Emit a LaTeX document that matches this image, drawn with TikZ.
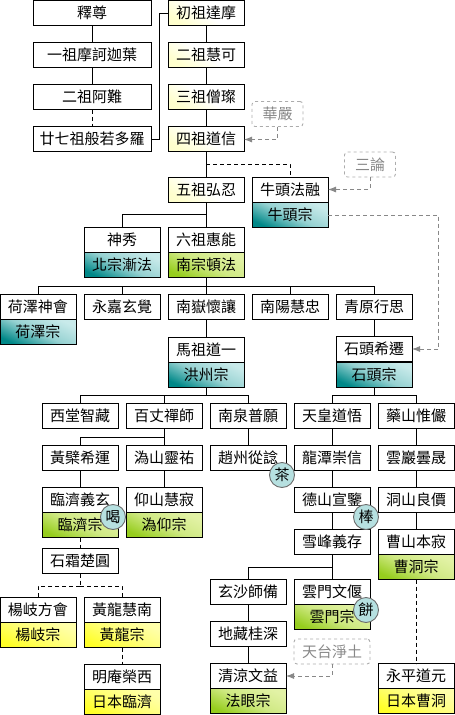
\documentclass[tikz,border=0pt]{standalone}
\usepackage{fontspec}
\setmainfont{Noto Sans CJK TC}
\usetikzlibrary{arrows.meta}
\definecolor{darkteal}{RGB}{0,136,136}
\definecolor{lightteal}{RGB}{200,234,234}
\definecolor{darkleaf}{RGB}{150,205,30}
\definecolor{lightleaf}{RGB}{226,242,165}
\definecolor{darkyellow}{RGB}{255,255,40}
\definecolor{lightyellow}{RGB}{255,255,170}
\definecolor{paleyellow}{RGB}{255,255,205}
\definecolor{stickteal}{RGB}{182,224,224}
\definecolor{guidegray}{RGB}{136,136,136}
\tikzset{
  namebox/.style={draw,fill=white,minimum width=76pt,minimum height=25pt,inner sep=0pt,outer sep=0pt,line width=0.9pt,font=\fontsize{15}{15}\selectfont},
  widebox/.style={namebox,minimum width=118pt},
  patriarch/.style={namebox,top color=white,bottom color=paleyellow,middle color=white,shading angle=-35},
  tealschool/.style={namebox,top color=lightteal,bottom color=darkteal,middle color=lightteal!75!darkteal,shading angle=-25},
  leafschool/.style={namebox,top color=lightleaf,bottom color=darkleaf,middle color=lightleaf!75!darkleaf,shading angle=-25},
  yellowschool/.style={namebox,top color=lightyellow,bottom color=darkyellow,middle color=lightyellow!60!darkyellow,shading angle=-25},
  otherbox/.style={draw=guidegray!70,dashed,rounded corners=3pt,text=guidegray,minimum width=51pt,minimum height=25pt,inner sep=0pt,line width=0.9pt,font=\fontsize{15}{15}\selectfont},
  stickmark/.style={circle,draw=guidegray!80!black,fill=stickteal,minimum size=25pt,inner sep=0pt,line width=0.9pt,font=\fontsize{15}{15}\selectfont},
  link/.style={line width=0.9pt},
  dashlink/.style={line width=0.9pt,dash pattern=on 4pt off 3pt},
  guidelink/.style={line width=0.9pt,guidegray,dash pattern=on 4pt off 3pt,-{Latex[length=8pt,width=6pt]}}
}
\begin{document}
\begin{tikzpicture}[x=1pt,y=-1pt]
  \useasboundingbox(0,0) rectangle(455,715);
  % india
  \node[widebox] (shizun) at(92,13){釋尊};
  \node[widebox] (jiaye) at(92,55){一祖摩訶迦葉};
  \node[widebox] (anan) at(92,97){二祖阿難};
  \node[widebox] (ruoduo) at(92,139){廿七祖般若多羅};
  % china
  \node[patriarch] (damo) at(206,13){初祖達摩};
  \node[patriarch] (huike) at(206,55){二祖慧可};
  \node[patriarch] (sengcan) at(206,97){三祖僧璨};
  \node[patriarch] (daoxin) at(206,139){四祖道信};
  \node[patriarch] (hongren) at(206,190){五祖弘忍};
  \node[namebox] (farong) at(290,190){牛頭法融};
  \node[tealschool] (niutou) at(290,215){牛頭宗};
  \node[namebox] (shenxiu) at(122,240){神秀};
  \node[tealschool] (beizong) at(122,265){北宗漸法};
  \node[namebox] (huineng) at(206,240){六祖惠能};
  \node[leafschool] (nanzong) at(206,265){南宗頓法};
  % disciples of the sixth
  \node[namebox] (shenhui) at(38,307){荷澤神會};
  \node[tealschool] (heze) at(38,332){荷澤宗};
  \node[namebox] (xuanjue) at(122,307){永嘉玄覺};
  \node[namebox] (huairang) at(206,307){南嶽懷讓};
  \node[namebox] (huizhong) at(290,307){南陽慧忠};
  \node[namebox] (xingsi) at(374,307){青原行思};
  \node[namebox] (daoyi) at(206,350){馬祖道一};
  \node[tealschool] (hongzhou) at(206,375){洪州宗};
  \node[namebox] (xiqian) at(374,349){石頭希遷};
  \node[tealschool] (shitou) at(374,374.5){石頭宗};
  % hongzhou line
  \node[namebox] (zhizang) at(80,416){西堂智藏};
  \node[namebox] (baizhang) at(164,416){百丈禪師};
  \node[namebox] (puyuan) at(248,416){南泉普願};
  \node[namebox] (xiyun) at(80,458){黃檗希運};
  \node[namebox] (lingyou) at(164,458){溈山靈祐};
  \node[namebox] (congshen) at(248,458){趙州從諗};
  \node[namebox] (yixuan) at(80,500){臨濟義玄};
  \node[leafschool] (linji) at(80,525){臨濟宗};
  \node[namebox] (huiji) at(164,500){仰山慧寂};
  \node[leafschool] (weiyang) at(164,525){溈仰宗};
  \node[namebox] (chuyuan) at(80,561){石霜楚圓};
  \node[namebox] (fanghui) at(38,610){楊岐方會};
  \node[yellowschool] (yangqi) at(38,635){楊岐宗};
  \node[namebox] (huinan) at(122,610){黃龍慧南};
  \node[yellowschool] (huanglong) at(122,635){黃龍宗};
  \node[namebox] (rongxi) at(122,677){明庵榮西};
  \node[yellowschool] (rilinji) at(122,702){日本臨濟};
  % shitou line
  \node[namebox] (daowu) at(332,416){天皇道悟};
  \node[namebox] (weiyan) at(416,416){藥山惟儼};
  \node[namebox] (chongxin) at(332,458){龍潭崇信};
  \node[namebox] (tansheng) at(416,458){雲巖曇晟};
  \node[namebox] (xuanjian) at(332,500){德山宣鑒};
  \node[namebox] (liangjia) at(416,500){洞山良價};
  \node[namebox] (yicun) at(332,542){雪峰義存};
  \node[namebox] (benji) at(416,542){曹山本寂};
  \node[leafschool] (caodong) at(416,567){曹洞宗};
  \node[namebox] (shibei) at(248,592){玄沙師備};
  \node[namebox] (wenyan) at(332,592){雲門文偃};
  \node[leafschool] (yunmen) at(332,617){雲門宗};
  \node[namebox] (guichen) at(248,634){地藏桂深};
  \node[namebox] (wenyi) at(248,676){清涼文益};
  \node[leafschool] (fayan) at(248,701){法眼宗};
  \node[namebox] (daoyuan) at(416,676){永平道元};
  \node[yellowschool] (ricaodong) at(416,701){日本曹洞};
  % other teachings
  \node[otherbox] (huayan) at(277.5,114){華嚴};
  \node[otherbox] (sanlun) at(370,164.5){三論};
  \node[otherbox,minimum width=76pt] (tiantai) at(332,651.5){天台淨土};
  % branch points
  \coordinate (hongrenfork) at(206,214.5);
  \coordinate (nanzongfork) at(206,286);
  \coordinate (hongzhoufork) at(206,395);
  \coordinate (shitoufork) at(374,395);
  \coordinate (baizhangfork) at(164,437);
  \coordinate (chuyuanfork) at(80,586);
  \coordinate (yicunfork) at(332,567);
  \coordinate (daoxinfork) at(206,164);
  % solid links
  \foreach \a/\b in {shizun/jiaye,jiaye/anan,damo/huike,huike/sengcan,sengcan/daoxin,daoxin/hongren,hongren/huineng,
    nanzong/huairang,huairang/daoyi,xingsi/xiqian,baizhang/lingyou,puyuan/congshen,xiyun/yixuan,lingyou/huiji,
    daowu/chongxin,chongxin/xuanjian,xuanjian/yicun,weiyan/tansheng,tansheng/liangjia,liangjia/benji,
    shibei/guichen,guichen/wenyi}
    \draw[link] (\a.south)--(\b.north);
  \draw[link] (ruoduo.east)-|(159,13)--(damo.west);
  \draw[link] (hongrenfork)-|(shenxiu.north);
  \foreach \b in {shenhui,xuanjue,huizhong,xingsi}
    \draw[link] (nanzongfork)-|(\b.north);
  \draw[link] (hongzhou.south)--(hongzhoufork);
  \foreach \b in {zhizang,baizhang,puyuan}
    \draw[link] (hongzhoufork)-|(\b.north);
  \draw[link] (shitou.south)--(shitoufork);
  \foreach \b in {daowu,weiyan}
    \draw[link] (shitoufork)-|(\b.north);
  \draw[link] (baizhangfork)-|(xiyun.north);
  \draw[link] (yicun.south)--(yicunfork);
  \draw[link] (yicunfork)-|(shibei.north);
  \draw[link] (yicunfork)-|(wenyan.north);
  % dashed links
  \draw[dashlink] (anan.south)--(ruoduo.north);
  \draw[dashlink] (daoxinfork)-|(farong.north);
  \draw[dashlink] (linji.south)--(chuyuan.north);
  \draw[dashlink] (chuyuan.south)--(chuyuanfork);
  \draw[dashlink] (chuyuanfork)-|(fanghui.north);
  \draw[dashlink] (chuyuanfork)-|(huinan.north);
  \draw[dashlink] (huanglong.south)--(rongxi.north);
  \draw[dashlink] (caodong.south)--(daoyuan.north);
  % gray arrows
  \draw[guidelink] (huayan.south)|-(daoxin.east|-0,139.5);
  \draw[guidelink] (sanlun.south)|-(farong.east|-0,189.5);
  \draw[guidelink] (niutou.east)-|(438.5,349)--(xiqian.east);
  \draw[guidelink] (tiantai.south)|-(wenyi.east|-0,676);
  % marks
  \node[stickmark] (cha) at(282,475){茶};
  \node[stickmark] (bang) at(366,517){棒};
  \node[stickmark] (he) at(113,517){喝};
  \node[stickmark] (bing) at(366,610){餅};
\end{tikzpicture}
\end{document}
